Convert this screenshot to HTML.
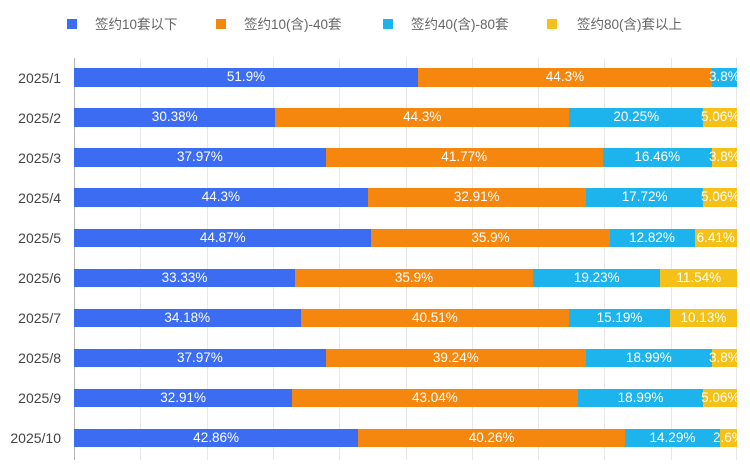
<!DOCTYPE html>
<html><head><meta charset="utf-8">
<style>
html,body{margin:0;padding:0;background:#fff;}
body{width:750px;height:471px;position:relative;overflow:hidden;font-family:"Liberation Sans","Noto Sans CJK SC",sans-serif;}
.lg{position:absolute;top:19px;width:10px;height:10px;}
.lt{position:absolute;top:16px;font-size:13.5px;line-height:17px;color:#666;white-space:nowrap;}
.yl{position:absolute;right:689px;font-size:14px;line-height:18px;color:#444;white-space:nowrap;text-align:right;}
#plot{position:absolute;left:74px;top:58px;width:663px;height:402px;overflow:hidden;}
.g{position:absolute;top:0;width:1px;height:402px;background:#e8e8e8;}
.s{position:absolute;height:18.4px;color:#fff;font-size:13.5px;line-height:18.4px;text-align:center;white-space:nowrap;}
.s span{position:absolute;left:50%;top:0;transform:translateX(-50%);}
.b{background:#3b6cf1;}.o{background:#f5870f;}.c{background:#1db4ee;}.y{background:#f5c118;}
</style></head><body>
<div class="lg b" style="left:67px"></div><div class="lt" style="left:95px">签约10套以下</div>
<div class="lg o" style="left:216px"></div><div class="lt" style="left:244px">签约10(含)-40套</div>
<div class="lg c" style="left:383px"></div><div class="lt" style="left:411px">签约40(含)-80套</div>
<div class="lg y" style="left:547px"></div><div class="lt" style="left:577px">签约80(含)套以上</div>

<div class="yl" style="top:68.5px">2025/1</div>
<div class="yl" style="top:108.6px">2025/2</div>
<div class="yl" style="top:148.6px">2025/3</div>
<div class="yl" style="top:188.7px">2025/4</div>
<div class="yl" style="top:228.7px">2025/5</div>
<div class="yl" style="top:268.8px">2025/6</div>
<div class="yl" style="top:308.9px">2025/7</div>
<div class="yl" style="top:348.9px">2025/8</div>
<div class="yl" style="top:389px">2025/9</div>
<div class="yl" style="top:429px">2025/10</div>

<div id="plot">
<div class="g" style="left:66px"></div><div class="g" style="left:132.6px"></div><div class="g" style="left:198.9px"></div><div class="g" style="left:265.2px"></div><div class="g" style="left:331.5px"></div><div class="g" style="left:397.8px"></div><div class="g" style="left:464.1px"></div><div class="g" style="left:530.4px"></div><div class="g" style="left:596.7px"></div><div class="g" style="left:662px"></div>
<div class="g" style="left:0;background:#b5b5b5"></div>

<!-- row1 top 10.3 -->
<div class="s b" style="top:10.3px;left:0;width:344.1px"><span>51.9%</span></div>
<div class="s o" style="top:10.3px;left:344.1px;width:293.71px"><span>44.3%</span></div>
<div class="s c" style="top:10.3px;left:637.81px;width:25.19px"><span>3.8%</span></div>
<!-- row2 -->
<div class="s b" style="top:50.36px;left:0;width:201.42px"><span>30.38%</span></div>
<div class="s o" style="top:50.36px;left:201.42px;width:293.71px"><span>44.3%</span></div>
<div class="s c" style="top:50.36px;left:495.13px;width:134.26px"><span>20.25%</span></div>
<div class="s y" style="top:50.36px;left:629.39px;width:33.61px"><span>5.06%</span></div>
<!-- row3 -->
<div class="s b" style="top:90.42px;left:0;width:251.74px"><span>37.97%</span></div>
<div class="s o" style="top:90.42px;left:251.74px;width:276.94px"><span>41.77%</span></div>
<div class="s c" style="top:90.42px;left:528.68px;width:109.13px"><span>16.46%</span></div>
<div class="s y" style="top:90.42px;left:637.81px;width:25.19px"><span>3.8%</span></div>
<!-- row4 -->
<div class="s b" style="top:130.48px;left:0;width:293.71px"><span>44.3%</span></div>
<div class="s o" style="top:130.48px;left:293.71px;width:218.19px"><span>32.91%</span></div>
<div class="s c" style="top:130.48px;left:511.9px;width:117.48px"><span>17.72%</span></div>
<div class="s y" style="top:130.48px;left:629.38px;width:33.62px"><span>5.06%</span></div>
<!-- row5 -->
<div class="s b" style="top:170.54px;left:0;width:297.49px"><span>44.87%</span></div>
<div class="s o" style="top:170.54px;left:297.49px;width:238.02px"><span>35.9%</span></div>
<div class="s c" style="top:170.54px;left:535.51px;width:85px"><span>12.82%</span></div>
<div class="s y" style="top:170.54px;left:620.51px;width:42.49px"><span>6.41%</span></div>
<!-- row6 -->
<div class="s b" style="top:210.6px;left:0;width:220.98px"><span>33.33%</span></div>
<div class="s o" style="top:210.6px;left:220.98px;width:238.02px"><span>35.9%</span></div>
<div class="s c" style="top:210.6px;left:459px;width:127.49px"><span>19.23%</span></div>
<div class="s y" style="top:210.6px;left:586.49px;width:76.51px"><span>11.54%</span></div>
<!-- row7 -->
<div class="s b" style="top:250.66px;left:0;width:226.61px"><span>34.18%</span></div>
<div class="s o" style="top:250.66px;left:226.61px;width:268.58px"><span>40.51%</span></div>
<div class="s c" style="top:250.66px;left:495.19px;width:100.71px"><span>15.19%</span></div>
<div class="s y" style="top:250.66px;left:595.9px;width:67.1px"><span>10.13%</span></div>
<!-- row8 -->
<div class="s b" style="top:290.72px;left:0;width:251.74px"><span>37.97%</span></div>
<div class="s o" style="top:290.72px;left:251.74px;width:260.16px"><span>39.24%</span></div>
<div class="s c" style="top:290.72px;left:511.9px;width:125.9px"><span>18.99%</span></div>
<div class="s y" style="top:290.72px;left:637.8px;width:25.2px"><span>3.8%</span></div>
<!-- row9 -->
<div class="s b" style="top:330.78px;left:0;width:218.19px"><span>32.91%</span></div>
<div class="s o" style="top:330.78px;left:218.19px;width:285.36px"><span>43.04%</span></div>
<div class="s c" style="top:330.78px;left:503.55px;width:125.9px"><span>18.99%</span></div>
<div class="s y" style="top:330.78px;left:629.45px;width:33.55px"><span>5.06%</span></div>
<!-- row10 -->
<div class="s b" style="top:370.84px;left:0;width:284.16px"><span>42.86%</span></div>
<div class="s o" style="top:370.84px;left:284.16px;width:266.92px"><span>40.26%</span></div>
<div class="s c" style="top:370.84px;left:551.08px;width:94.74px"><span>14.29%</span></div>
<div class="s y" style="top:370.84px;left:645.82px;width:17.18px"><span>2.6%</span></div>
</div>
</body></html>
